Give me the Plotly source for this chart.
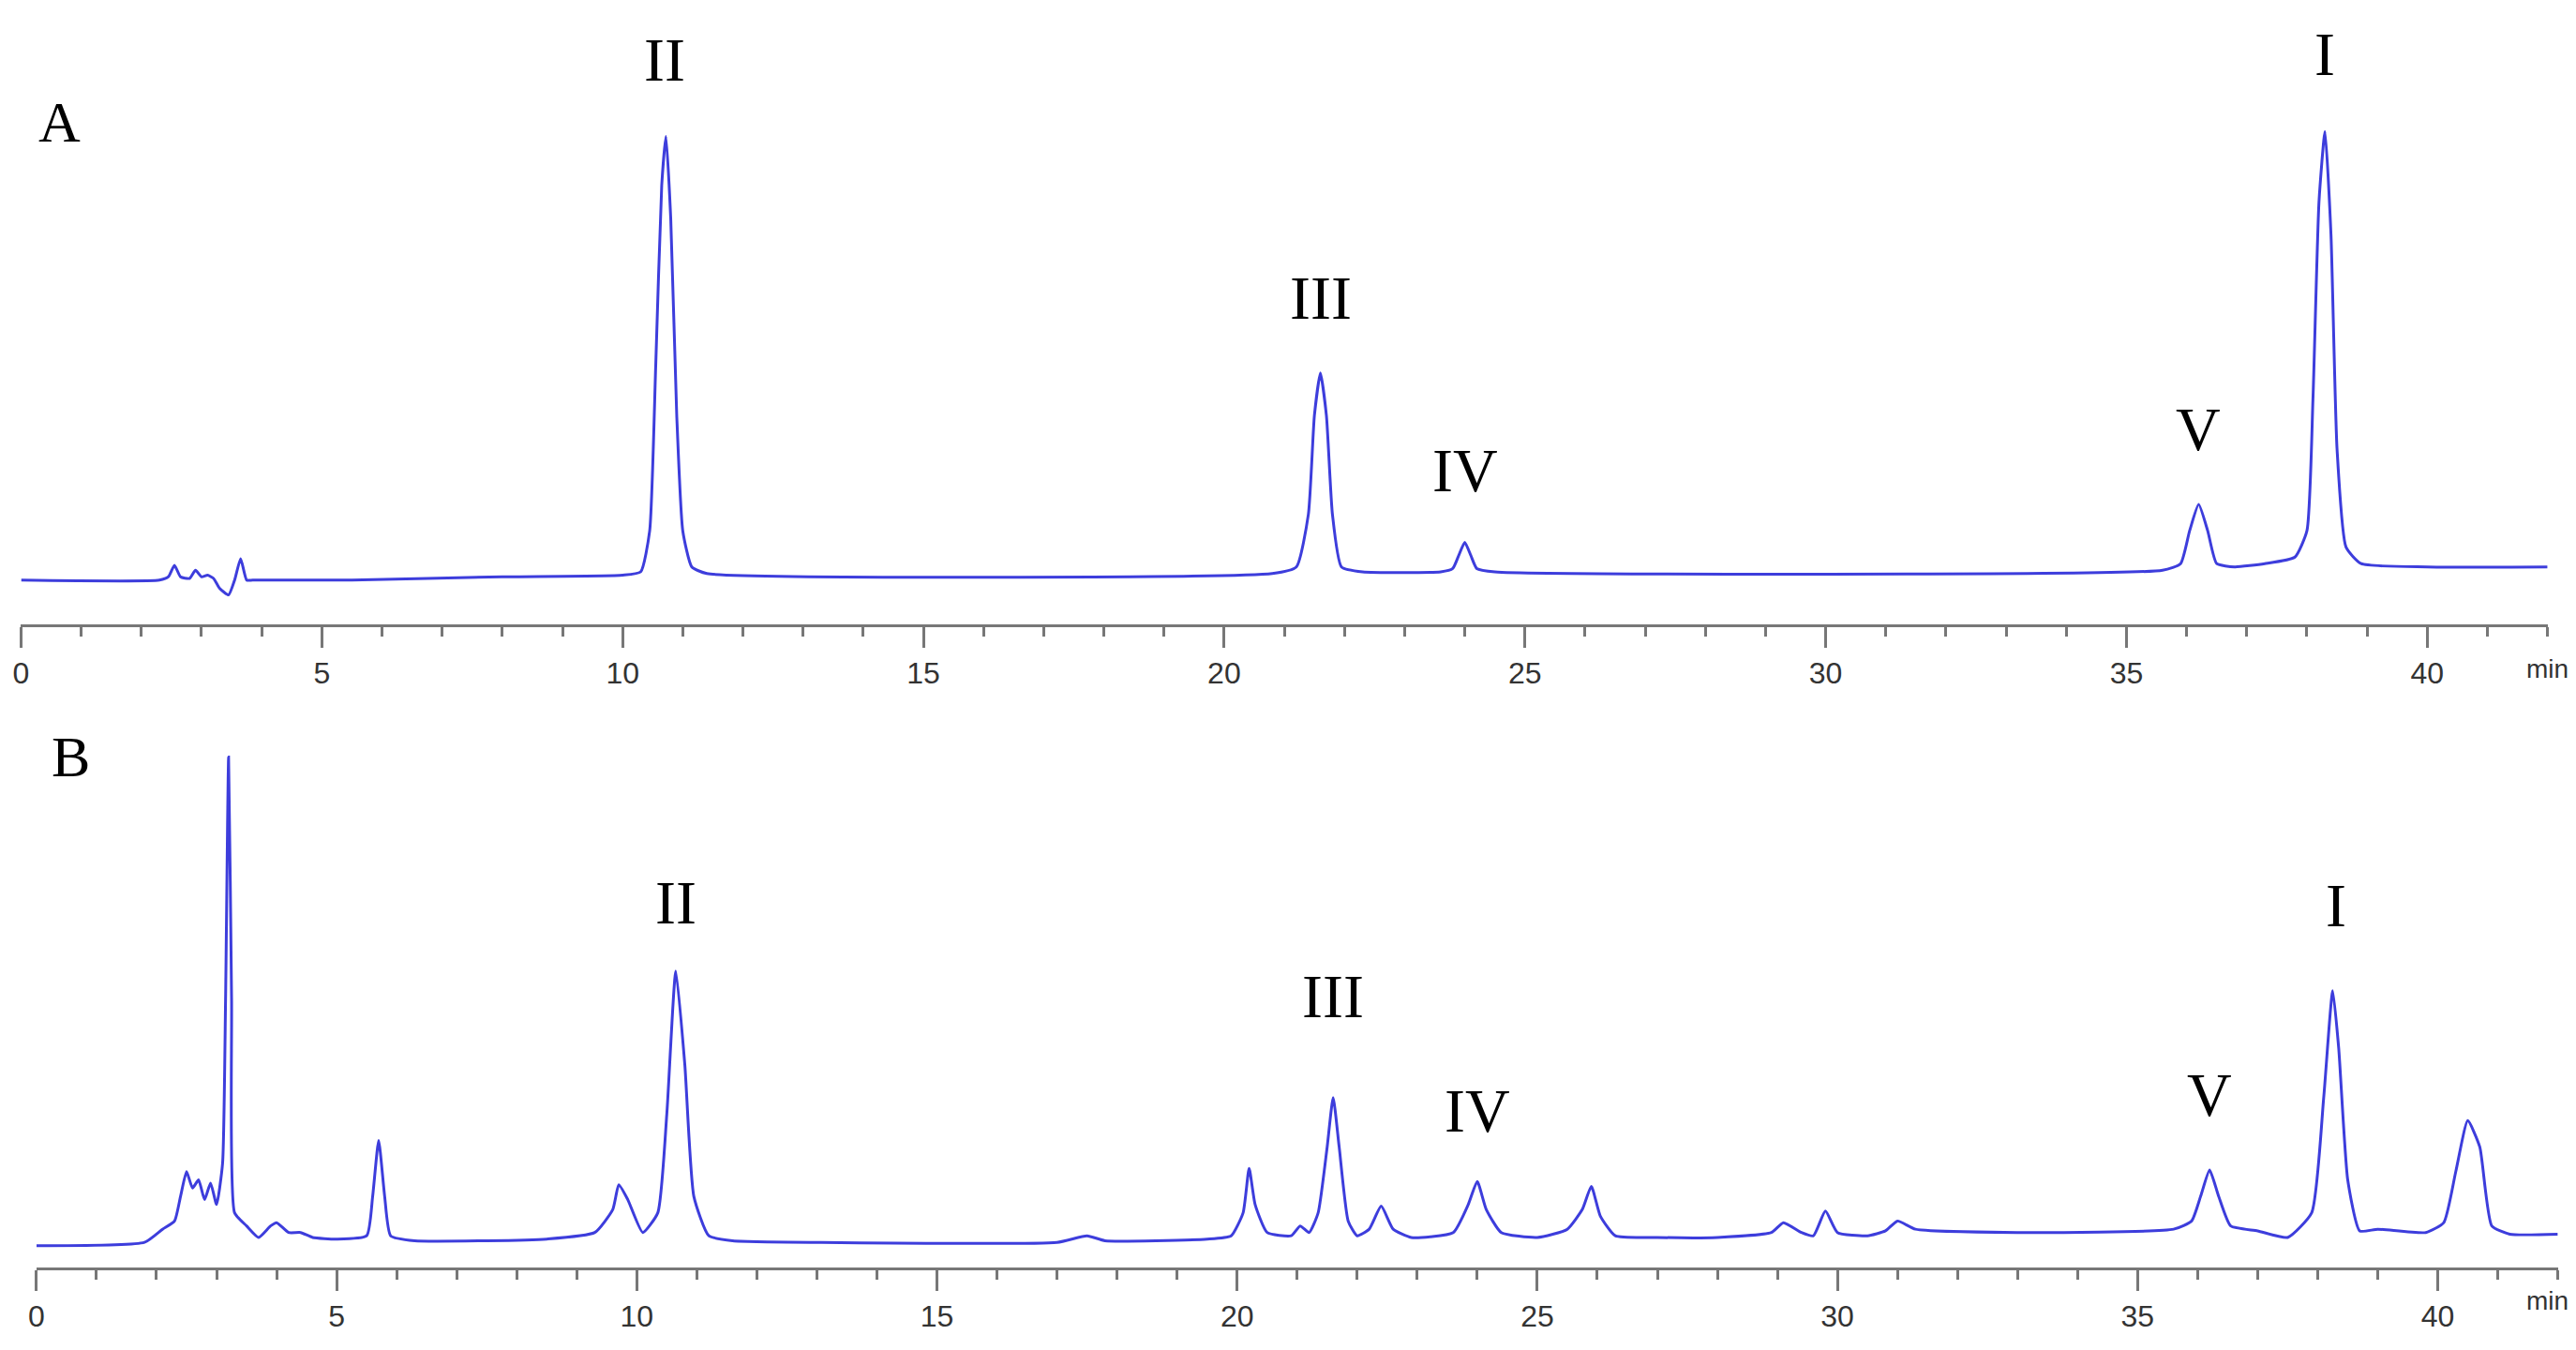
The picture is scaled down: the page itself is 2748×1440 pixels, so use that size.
import plotly.graph_objects as go

# Chromatogram A (standards) - time (min) and relative detector response
time_a = [0, 2.3, 2.45, 2.55, 2.65, 2.8, 2.9, 3.0, 3.1, 3.2, 3.3, 3.45, 3.55, 3.65, 3.75, 3.85, 5.5, 8.0,
          10.0, 10.3, 10.45, 10.55, 10.65, 10.72, 10.8, 10.9, 11.0, 11.15, 11.4,
          20.8, 21.2, 21.4, 21.5, 21.6, 21.7, 21.8, 21.95, 22.3,
          23.6, 23.8, 23.9, 24.0, 24.1, 24.2, 24.5,
          35.6, 35.9, 36.05, 36.2, 36.35, 36.5, 36.8,
          37.3, 37.8, 38.0, 38.1, 38.2, 38.3, 38.4, 38.5, 38.65, 38.9, 40.0, 42.0]
resp_a = [0, 0, 2, 9, 2, 1, 6, 2, 3, 1, -5, -9, 0, 13, 0, 0, 0, 2,
          3, 5, 30, 130, 240, 270, 220, 100, 30, 8, 4,
          4, 8, 40, 100, 126, 100, 40, 8, 5,
          5, 7, 15, 23, 15, 7, 5,
          6, 10, 30, 46, 30, 10, 8,
          10, 14, 30, 110, 230, 273, 210, 80, 20, 10, 8, 8]

# Chromatogram B (sample)
time_b = [0, 1.8, 2.1, 2.3, 2.4, 2.5, 2.6, 2.7, 2.8, 2.9, 3.0, 3.1, 3.15, 3.2, 3.25, 3.3, 3.5, 3.7,
          3.9, 4.0, 4.2, 4.4, 4.6, 5.0, 5.5, 5.6, 5.7, 5.8, 5.9, 6.3, 7.5, 8.5,
          9.3, 9.6, 9.7, 9.85, 10.1, 10.35, 10.5, 10.65, 10.8, 10.95, 11.2, 11.6,
          13.0, 17.0, 17.5, 17.8, 19.5,
          19.9, 20.1, 20.2, 20.3, 20.5, 20.9, 21.05, 21.2, 21.35, 21.5, 21.6, 21.7, 21.85, 22.0,
          22.2, 22.4, 22.6, 22.9, 23.6, 23.85, 24.0, 24.15, 24.4, 25.0, 25.5, 25.75, 25.9, 26.05, 26.3,
          27.0, 28.0, 28.9, 29.1, 29.4, 29.6, 29.8, 30.0, 30.5, 30.8, 31.0, 31.3, 33.0,
          35.6, 35.9, 36.05, 36.2, 36.35, 36.55, 37.0, 37.5, 37.9, 38.1, 38.25, 38.35, 38.5, 38.7,
          39.0, 39.8, 40.1, 40.3, 40.5, 40.7, 40.9, 41.2, 42.0]
resp_b = [0, 2, 10, 15, 30, 45, 35, 40, 28, 38, 25, 50, 150, 297, 150, 20, 12, 5,
          12, 14, 8, 8, 5, 4, 6, 30, 64, 30, 6, 3, 3, 4,
          8, 22, 37, 28, 8, 20, 80, 167, 110, 30, 6, 3,
          2, 2, 6, 3, 4,
          6, 20, 47, 25, 8, 6, 12, 8, 20, 60, 90, 60, 15, 6,
          10, 24, 10, 5, 8, 25, 39, 22, 8, 5, 10, 22, 36, 18, 6,
          5, 5, 8, 14, 8, 6, 21, 8, 6, 9, 15, 10, 8,
          10, 15, 30, 46, 30, 12, 9, 5, 20, 90, 155, 120, 40, 9,
          10, 8, 14, 45, 76, 60, 12, 7, 7]

labels_a = [("II", 10.7, 295), ("III", 21.6, 150), ("IV", 24.0, 45), ("V", 36.2, 70), ("I", 38.3, 298)]
labels_b = [("II", 10.65, 187), ("III", 21.6, 130), ("IV", 24.0, 60), ("V", 36.2, 70), ("I", 38.3, 185)]

fig = go.Figure()
line = dict(color="#3d3ddc", width=3, shape="spline", smoothing=0.5)
fig.add_trace(go.Scatter(x=time_a, y=resp_a, mode="lines", line=line, xaxis="x", yaxis="y"))
fig.add_trace(go.Scatter(x=time_b, y=resp_b, mode="lines", line=line, xaxis="x2", yaxis="y2"))

xcommon = dict(range=[0, 42], tickvals=[0, 5, 10, 15, 20, 25, 30, 35, 40], ticks="outside",
               ticklen=22, tickwidth=3, tickcolor="#777", showline=True, linecolor="#777",
               linewidth=3, showgrid=False, zeroline=False,
               tickfont=dict(family="Liberation Sans", size=32, color="#333"),
               minor=dict(dtick=1, ticks="outside", ticklen=10, tickwidth=3, tickcolor="#777"))
fig.update_layout(
    width=2748, height=1440, showlegend=False,
    plot_bgcolor="white", paper_bgcolor="white",
    margin=dict(l=0, r=0, t=0, b=0),
    xaxis=dict(domain=[0.002, 0.986], anchor="y", **xcommon),
    yaxis=dict(domain=[0.543, 0.963], range=[-27, 318], visible=False),
    xaxis2=dict(domain=[0.008, 0.990], anchor="y2", **xcommon),
    yaxis2=dict(domain=[0.067, 0.463], range=[-13, 312], visible=False),
)

serif = dict(family="Liberation Serif", size=66, color="black")
for txt, t, h in labels_a:
    fig.add_annotation(x=t, y=h, xref="x", yref="y", text=txt, showarrow=False,
                       yanchor="bottom", font=serif)
for txt, t, h in labels_b:
    fig.add_annotation(x=t, y=h, xref="x2", yref="y2", text=txt, showarrow=False,
                       yanchor="bottom", font=serif)
fig.add_annotation(x=0.008, y=0.94, xref="paper", yref="paper", text="A", showarrow=False,
                   xanchor="left", font=dict(family="Liberation Serif", size=62, color="black"))
fig.add_annotation(x=0.013, y=0.445, xref="paper", yref="paper", text="B", showarrow=False,
                   xanchor="left", font=dict(family="Liberation Serif", size=62, color="black"))
for ya in [0.51, 0.03]:
    fig.add_annotation(x=0.995, y=ya, xref="paper", yref="paper", text="min", showarrow=False,
                       xanchor="right", font=dict(family="Liberation Sans", size=28, color="#333"))

fig.write_html("out.html")
